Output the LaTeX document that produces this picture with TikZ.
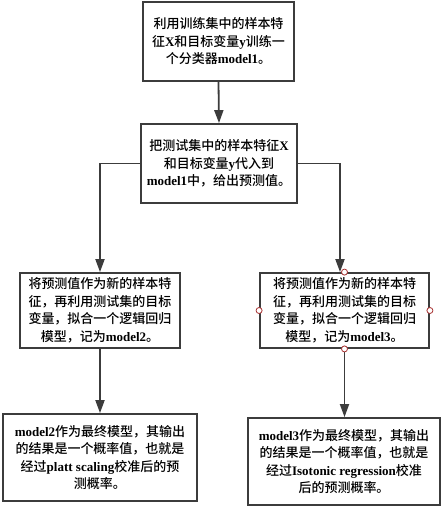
\documentclass[tikz,border=0pt]{standalone}
\usepackage{fontspec}
\setmainfont{Liberation Serif}
\newfontfamily\cjk{Noto Sans CJK SC Medium}
\usetikzlibrary{arrows.meta}
\newcommand\en[1]{{\rmfamily\bfseries #1}}
\definecolor{edge}{HTML}{3C3C3C}
\definecolor{handle}{HTML}{A83232}
\tikzset{
  box/.style={draw=edge, line width=1.8pt, fill=white, align=center, inner sep=0pt,
    font=\cjk\fontsize{13}{17.5}\selectfont},
  conn/.style={draw=edge, line width=1.8pt},
  arr/.style={conn, -{Triangle[width=9pt,length=13pt]}},
  handlept/.style={circle, draw=handle, fill=white, line width=0.8pt, inner sep=0pt, minimum size=6pt}
}
\begin{document}
\begin{tikzpicture}[x=1pt,y=-1pt]
\useasboundingbox (0,0) rectangle (445,507);
\fill[white] (0,0) rectangle (445,507);
\node[box, minimum width=151pt, minimum height=79pt] (b1) at (218.5,41.5)
  {利用训练集中的样本特\\征\en{X}和目标变量\en{y}训练一\\个分类器\en{model1}。};
\node[box, minimum width=156pt, minimum height=79pt] (b2) at (219,163.5)
  {把测试集中的样本特征\en{X}\\和目标变量\en{y}代入到\\\en{model1}中，给出预测值。};
\node[box, minimum width=160pt, minimum height=75pt] (b3) at (100,310.5)
  {将预测值作为新的样本特\\征，再利用测试集的目标\\变量，拟合一个逻辑回归\\模型，记为\en{model2}。};
\node[box, minimum width=169pt, minimum height=75pt] (b4) at (344.5,310.5)
  {将预测值作为新的样本特\\征，再利用测试集的目标\\变量，拟合一个逻辑回归\\模型，记为\en{model3}。};
\node[box, minimum width=194pt, minimum height=87pt] (b5) at (100,457.5)
  {\en{model2}作为最终模型，其输出\\的结果是一个概率值，也就是\\经过\en{platt scaling}校准后的预\\测概率。};
\node[box, minimum width=192pt, minimum height=87pt] (b6) at (344,461.5)
  {\en{model3}作为最终模型，其输出\\的结果是一个概率值，也就是\\经过\en{Isotonic regression}校准\\后的预测概率。};
\coordinate (cl) at (100,163.5);
\coordinate (cr) at (340,163.5);
\draw[arr] (b1.south) -- (b2.north);
\draw[arr] (b2.west) -- (cl) -- (cl |- b3.north);
\draw[arr] (b2.east) -- (cr) -- (cr |- b4.north);
\draw[arr] (b3.south) -- (b5.north);
\draw[arr] (b4.south) -- (b4.south |- b6.north);
\node[handlept] (h1) at (b4.north) {};
\node[handlept] (h2) at (b4.west) {};
\node[handlept] (h3) at (b4.east) {};
\node[handlept] (h4) at (b4.south) {};
\end{tikzpicture}
\end{document}
